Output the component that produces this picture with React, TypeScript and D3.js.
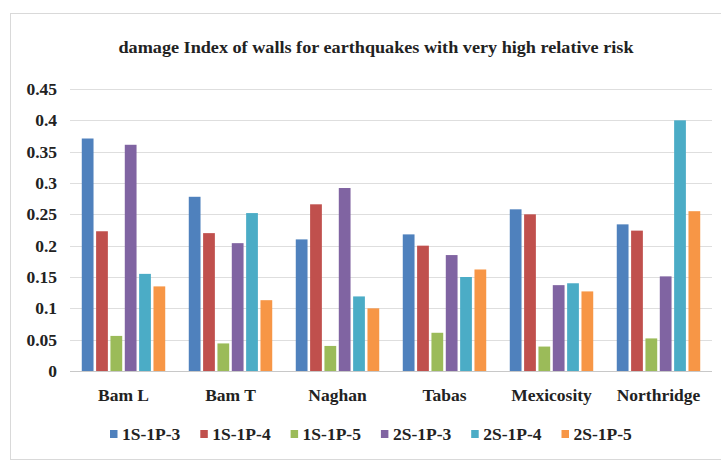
import { useRef, useEffect } from "react";
import * as d3 from "d3";

const categories: string[] = ["Bam L", "Bam T", "Naghan", "Tabas", "Mexicosity", "Northridge"];
const seriesNames: string[] = ["1S-1P-3", "1S-1P-4", "1S-1P-5", "2S-1P-3", "2S-1P-4", "2S-1P-5"];
const s1P3: number[] = [0.371, 0.278, 0.21, 0.218, 0.258, 0.234];
const s1P4: number[] = [0.223, 0.22, 0.266, 0.2, 0.25, 0.224];
const s1P5: number[] = [0.056, 0.044, 0.04, 0.061, 0.039, 0.052];
const s2P3: number[] = [0.361, 0.204, 0.292, 0.185, 0.137, 0.151];
const s2P4: number[] = [0.155, 0.252, 0.119, 0.15, 0.14, 0.4];
const s2P5: number[] = [0.135, 0.113, 0.1, 0.162, 0.127, 0.255];
const yTicks: number[] = [0, 0.05, 0.1, 0.15, 0.2, 0.25, 0.3, 0.35, 0.4, 0.45];
const colors: string[] = ["#4F81BD", "#C0504D", "#9BBB59", "#8064A2", "#4BACC6", "#F79646"];
const titleText = "damage Index of walls for earthquakes with very high relative risk";

const W = 721;
const H = 460;
const FONT = "'Liberation Serif', 'Times New Roman', serif";
const FS = 17.5;

const Chart = () => {
  const svgRef = useRef(null);

  useEffect(() => {
    if (!svgRef.current) return;
    const svg = d3.select(svgRef.current);
    svg.selectAll("*").remove();

    const values = [s1P3, s1P4, s1P5, s2P3, s2P4, s2P5];
    const margin = { left: 70, right: 9, top: 89, bottom: 89 };
    const plotR = W - margin.right;
    const plotB = H - margin.bottom;

    // frame
    svg
      .append("rect")
      .attr("x", 10.5)
      .attr("y", 13.5)
      .attr("width", 712)
      .attr("height", 446)
      .attr("fill", "white")
      .attr("stroke", "#d9d9d9");

    const x0 = d3.scaleBand().domain(categories).range([margin.left, plotR]).paddingInner(0.22).paddingOuter(0.11);
    const x1 = d3.scaleBand().domain(seriesNames).range([0, x0.bandwidth()]).paddingInner(0.18);
    const y = d3.scaleLinear().domain([0, 0.45]).range([plotB, margin.top]);

    // grid
    svg
      .append("g")
      .selectAll("line")
      .data(yTicks)
      .join("line")
      .attr("x1", margin.left)
      .attr("x2", plotR)
      .attr("y1", (d) => Math.round(y(d)) + 0.5)
      .attr("y2", (d) => Math.round(y(d)) + 0.5)
      .attr("stroke", (d) => (d === 0 ? "#c8c8c8" : "#dedede"))
      .attr("stroke-width", 1.2);

    // y labels
    svg
      .append("g")
      .attr("font-family", FONT)
      .attr("font-weight", "bold")
      .attr("font-size", FS)
      .attr("fill", "#222")
      .attr("text-anchor", "end")
      .selectAll("text")
      .data(yTicks)
      .join("text")
      .attr("x", 57)
      .attr("y", (d) => y(d))
      .attr("dy", "0.35em")
      .text((d) => String(+d.toFixed(2)));

    // bars
    const groups = svg
      .append("g")
      .selectAll("g")
      .data(categories)
      .join("g")
      .attr("transform", (d) => `translate(${x0(d)},0)`);

    groups
      .selectAll("rect")
      .data((_, ci) => seriesNames.map((s, si) => ({ s, si, v: values[si][ci] })))
      .join("rect")
      .attr("x", (d) => x1(d.s) as number)
      .attr("width", x1.bandwidth())
      .attr("y", (d) => y(d.v))
      .attr("height", (d) => y(0) - y(d.v))
      .attr("fill", (d) => colors[d.si]);

    // x labels
    svg
      .append("g")
      .attr("font-family", FONT)
      .attr("font-weight", "bold")
      .attr("font-size", FS)
      .attr("fill", "#222")
      .attr("text-anchor", "middle")
      .selectAll("text")
      .data(categories)
      .join("text")
      .attr("x", (d) => (x0(d) as number) + x0.bandwidth() / 2)
      .attr("y", 401)
      .text((d) => d);

    // title
    svg
      .append("text")
      .attr("x", 376)
      .attr("y", 53)
      .attr("text-anchor", "middle")
      .attr("font-family", FONT)
      .attr("font-weight", "bold")
      .attr("font-size", 17)
      .attr("fill", "#222")
      .attr("textLength", 515)
      .attr("lengthAdjust", "spacingAndGlyphs")
      .text(titleText);

    // legend
    const leg = svg
      .append("g")
      .selectAll("g")
      .data(seriesNames)
      .join("g")
      .attr("transform", (_, i) => `translate(${110 + i * 90.3},434)`);
    leg
      .append("rect")
      .attr("x", 0)
      .attr("y", -4)
      .attr("width", 7.5)
      .attr("height", 8)
      .attr("fill", (_, i) => colors[i]);
    leg
      .append("text")
      .attr("x", 12)
      .attr("dy", "0.35em")
      .attr("font-family", FONT)
      .attr("font-weight", "bold")
      .attr("font-size", FS)
      .attr("fill", "#222")
      .text((d) => d);
  }, []);

  return <svg ref={svgRef} width={W} height={H} style={{ position: "absolute", left: 0, top: 0 }} />;
};

export default function App() {
  return <Chart />;
}
